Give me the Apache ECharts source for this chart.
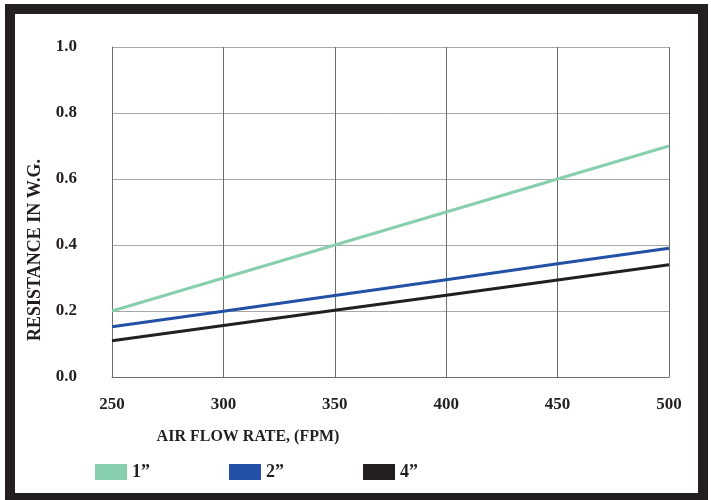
<!DOCTYPE html>
<html>
<head>
<meta charset="utf-8">
<script src="https://cdn.jsdelivr.net/npm/echarts@6/dist/echarts.min.js"></script>
<style>
  html, body { margin: 0; padding: 0; background: #fff; }
  #chart { width: 711px; height: 500px; }
</style>
</head>
<body>
<div id="chart"></div>
<script>
var flowRates = [250, 300, 350, 400, 450, 500];
var oneInch = [0.2, 0.3, 0.4, 0.5, 0.6, 0.7];
var twoInch = [0.152, 0.199, 0.247, 0.295, 0.343, 0.39];
var fourInch = [0.11, 0.156, 0.202, 0.248, 0.294, 0.34];
var seriesNames = ['1\u201d', '2\u201d', '4\u201d'];
var seriesColors = ['#88cfb0', '#2150a5', '#231f20'];

var fontFam = '"Liberation Serif", "DejaVu Serif", serif';

function pairs(ys) {
    return flowRates.map(function (x, i) { return [x, ys[i]]; });
}

var dom = document.getElementById('chart');
var myChart = echarts.init(dom);

function mkLegend(i, left) {
    return {
        data: [seriesNames[i]],
        left: left,
        top: 458,
        icon: 'rect',
        itemWidth: 32,
        itemHeight: 16,
        itemGap: 5,
        textStyle: { fontFamily: fontFam, fontWeight: 'bold', fontSize: 18, color: '#231f20' }
    };
}

var option = {
    animation: false,
    backgroundColor: '#fff',
    grid: { left: 112, right: 42, top: 47, bottom: 123 },
    legend: [mkLegend(0, 90), mkLegend(1, 224), mkLegend(2, 358)],
    xAxis: {
        type: 'value',
        min: 250,
        max: 500,
        interval: 50,
        axisLine: { show: true, lineStyle: { color: '#6d6d6d', width: 1 } },
        axisTick: { show: false },
        axisLabel: { margin: 19, fontFamily: fontFam, fontWeight: 'bold', fontSize: 17, color: '#231f20' },
        splitLine: { show: true, lineStyle: { color: '#6d6d6d', width: 1 } }
    },
    yAxis: {
        type: 'value',
        min: 0,
        max: 1,
        interval: 0.2,
        axisLine: { show: true, lineStyle: { color: '#6d6d6d', width: 1 } },
        axisTick: { show: false },
        axisLabel: {
            margin: 35, fontFamily: fontFam, fontWeight: 'bold', fontSize: 17, color: '#231f20',
            formatter: function (v) { return v.toFixed(1); }
        },
        splitLine: { show: true, lineStyle: { color: '#a8a8a8', width: 1 } }
    },
    graphic: [
        {
            type: 'rect',
            shape: { x: 10, y: 9, width: 693, height: 489 },
            style: { fill: 'none', stroke: '#231f20', lineWidth: 10 },
            z: 100
        },
        {
            type: 'text',
            x: 248, y: 437,
            style: {
                text: 'AIR FLOW RATE, (FPM)',
                align: 'center', verticalAlign: 'middle',
                font: 'bold 16px ' + fontFam, fill: '#231f20'
            }
        },
        {
            type: 'text',
            x: 35, y: 250,
            rotation: Math.PI / 2,
            style: {
                text: 'RESISTANCE IN W.G.',
                align: 'center', verticalAlign: 'middle',
                font: 'bold 18px ' + fontFam, fill: '#231f20'
            }
        }
    ],
    series: [
        { name: seriesNames[0], type: 'line', data: pairs(oneInch), showSymbol: false, lineStyle: { width: 3, color: seriesColors[0] }, itemStyle: { color: seriesColors[0] } },
        { name: seriesNames[1], type: 'line', data: pairs(twoInch), showSymbol: false, lineStyle: { width: 3, color: seriesColors[1] }, itemStyle: { color: seriesColors[1] } },
        { name: seriesNames[2], type: 'line', data: pairs(fourInch), showSymbol: false, lineStyle: { width: 3, color: seriesColors[2] }, itemStyle: { color: seriesColors[2] } }
    ]
};

if (option && typeof option === "object") {
    myChart.setOption(option, true);
}
</script>
</body>
</html>
